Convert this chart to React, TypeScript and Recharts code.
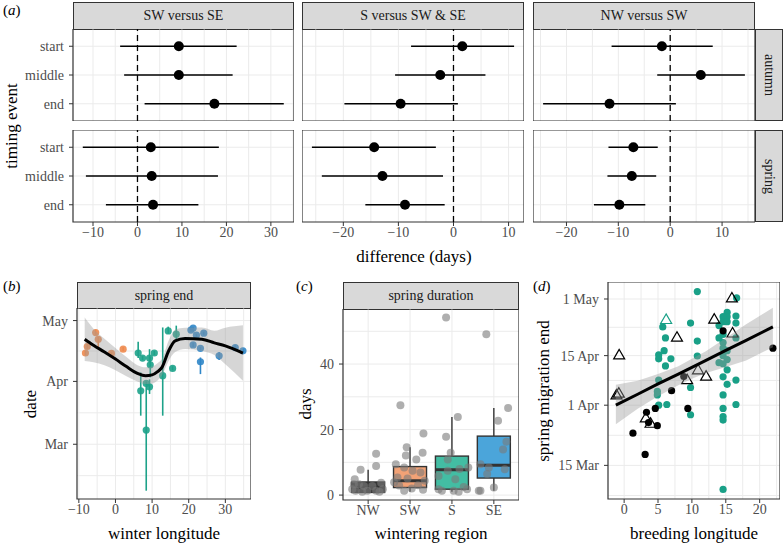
import React from "react";
import {
  Area,
  Bar,
  CartesianGrid,
  ComposedChart,
  ErrorBar,
  Line,
  ReferenceArea,
  ReferenceLine,
  Scatter,
  XAxis,
  YAxis,
} from "recharts";

const FONT = "Liberation Serif, Times New Roman, serif";
const BORDER = "#333333";
const GRID = "#EBEBEB";
const TICK = { fontSize: 14, fill: "#4D4D4D", fontFamily: FONT };
const ORANGE = "#EE8A4E";
const TEAL = "#1DA289";
const BLUE = "#2F86C8";

// ---------- (a) differences between wintering regions (days)
const timingEvents = ["start", "middle", "end"];
const comparisons = ["SW versus SE", "S versus SW & SE", "NW versus SW"];
const seasons = ["autumn", "spring"];

const swSeAutumnMean = [9.3, 9.3, 17.3];
const swSeAutumnLower = [-3.9, -3.0, 1.6];
const swSeAutumnUpper = [22.3, 21.4, 32.9];
const swSeSpringMean = [3.0, 3.2, 3.5];
const swSeSpringLower = [-12.3, -11.6, -7.1];
const swSeSpringUpper = [18.3, 18.1, 13.7];

const sSwSeAutumnMean = [1.6, -2.4, -9.6];
const sSwSeAutumnLower = [-7.7, -10.6, -19.8];
const sSwSeAutumnUpper = [11.0, 5.8, 0.8];
const sSwSeSpringMean = [-14.4, -12.9, -8.8];
const sSwSeSpringLower = [-25.7, -23.9, -16.0];
const sSwSeSpringUpper = [-3.2, -1.9, -1.6];

const nwSwAutumnMean = [-1.6, 5.9, -11.7];
const nwSwAutumnLower = [-11.3, -2.5, -24.5];
const nwSwAutumnUpper = [8.2, 14.4, 1.1];
const nwSwSpringMean = [-7.1, -7.4, -9.8];
const nwSwSpringLower = [-11.9, -12.1, -14.7];
const nwSwSpringUpper = [-2.4, -2.7, -4.8];

const facetMean = [
  [swSeAutumnMean, swSeSpringMean],
  [sSwSeAutumnMean, sSwSeSpringMean],
  [nwSwAutumnMean, nwSwSpringMean],
];
const facetLower = [
  [swSeAutumnLower, swSeSpringLower],
  [sSwSeAutumnLower, sSwSeSpringLower],
  [nwSwAutumnLower, nwSwSpringLower],
];
const facetUpper = [
  [swSeAutumnUpper, swSeSpringUpper],
  [sSwSeAutumnUpper, sSwSeSpringUpper],
  [nwSwAutumnUpper, nwSwSpringUpper],
];

const diffDomains = [[-14.5, 35.2], [-27.5, 12.8], [-26.45, 16.35]];
const diffTicks = [[-10, 0, 10, 20, 30], [-20, -10, 0, 10], [-20, -10, 0, 10]];
const diffGrid = [
  [-10, -5, 0, 5, 10, 15, 20, 25, 30, 35],
  [-25, -20, -15, -10, -5, 0, 5, 10],
  [-25, -20, -15, -10, -5, 0, 5, 10, 15],
];

// ---------- (b) spring end vs winter longitude (day of year)
const swLon = [-8.2, -7.7, -5.4, -4.7, -1.1, 2.1];
const swEnd = [105.0, 108.2, 115.1, 111.8, 104.8, 106.9];
const swLow = [104, 107, 114, 107.5, 104, 106];
const swHigh = [106, 109.5, 116.5, 113, 105.5, 108];

const sLon = [6.2, 7.4, 6.9, 8.4, 8.4, 9.3, 9.5, 9.3, 10.6, 12.9, 14.4, 15.6, 16.6];
const sEnd = [105, 102.5, 86.4, 67, 90, 102.5, 99.2, 88.3, 105, 93.8, 115.9, 97.4, 114.3];
const sLow = [102.5, 101.5, 74.1, 37.1, 89, 100.4, 93, 84.8, 104, 74.1, 114.5, 96.5, 111];
const sHigh = [110.6, 103.5, 95.4, 88.8, 91, 106.9, 103, 92, 106, 117.6, 118, 98.5, 118.5];

const seLon = [20.6, 21.2, 21.2, 22.1, 23.2, 23.2, 24.1, 28.3, 32.7, 34.8];
const seEnd = [116.3, 117.3, 109, 113.8, 107.3, 100.7, 114.8, 103.6, 107.7, 106.1];
const seLow = [115.5, 116.5, 108, 113, 106.5, 94.6, 114, 101.5, 106.5, 105.5];
const seHigh = [117, 118, 110, 114.5, 108, 102.8, 115.5, 105.5, 109, 106.8];

const smoothLon = [-8.4, -6, -3, 0, 3, 6, 8.2, 10, 11.5, 12.7, 14.5, 16.3, 19, 23.6, 27, 30, 34.8];
const smoothFit = [111.8, 108.8, 105.5, 102, 98.3, 95, 93.8, 94.2, 95.8, 97.9, 106, 111, 112.2, 111.8, 110, 108.5, 105];
const smoothLower = [101, 100.5, 99, 96.5, 93.5, 91, 89.7, 90, 91.5, 94, 101, 105.5, 107, 106, 104, 99.5, 91.3];
const smoothUpper = [122.5, 117, 112, 107.5, 103, 99, 98, 98.4, 100, 102, 111, 116.5, 117.4, 117.6, 116, 117.5, 118.7];

const monthTicks = [60, 91, 121];
const monthLabels = ["Mar", "Apr", "May"];

// ---------- (c) spring duration by wintering region (days)
const regions = ["NW", "SW", "S", "SE"];
const boxQ1 = [0.8, 2.3, 1.8, 5.2];
const boxMedian = [2.3, 4.4, 7.7, 9.1];
const boxQ3 = [4.0, 8.7, 11.9, 18.0];
const whiskerLow = [0.8, 1.0, 1.0, 1.3];
const whiskerHigh = [7.7, 14.6, 23.8, 26.6];
const boxColors = ["#3A3A3A", "#F2A276", "#43BDA3", "#4BA5DA"];

const durationPos = [
  0.82, 1.19, 1.19, 0.68, 0.66, 0.78, 0.7, 0.9, 1.1, 1.31, 1.35, 1.19, 0.98, 0.86, 1.27, 0.62,
  1.77, 2.32, 1.92, 2.3, 2.15, 1.9, 1.66, 1.86, 2.06, 2.25, 1.7, 1.94, 2.35, 1.74, 2.19, 1.86, 2.31, 2.04, 1.62,
  2.86, 2.86, 3.14, 2.97, 2.76, 3.04, 3.16, 3.28, 3.39, 2.9, 3.18, 2.9, 2.68, 3.08, 2.68, 3.36,
  3.82, 4.34, 4.1, 4.3, 4.22, 4.26, 3.68, 3.88, 3.84, 3.68, 4.0, 3.64,
];
const durationDays = [
  7.7, 12.6, 8.9, 4.8, 3.3, 3.3, 1.3, 2.8, 2.8, 3.8, 1.8, 1.3, 1.3, 1.0, 1.0, 1.8,
  27.4, 18.8, 14.6, 12.9, 10.9, 12.1, 9.4, 8.4, 7.4, 6.9, 5.4, 5.1, 4.4, 2.9, 3.0, 1.3, 1.6, 2.0, 3.9,
  54.2, 17.8, 23.8, 12.9, 1.3, 1.3, 1.0, 2.5, 8.4, 10.9, 8.0, 7.4, 5.8, 4.8, 1.8, 1.8,
  49.1, 26.6, 22.7, 16.3, 13.9, 7.9, 9.4, 8.4, 6.4, 1.3, 2.3, 1.3,
];

// ---------- (d) spring migration end vs breeding longitude (day of year)
const tealLon = [
  10.8, 16.6, 15.2, 15.2, 14.6, 14.6, 15.2, 16.5, 16.5, 5.7, 9.8, 6.1, 10.8, 16.5, 14.6, 14.6, 14.6, 15.2,
  14.6, 15.2, 14.6, 15.2, 14.6, 15.2, 14.6, 14.6, 14.6, 14.6, 14.6, 16.5, 16.5, 5.9, 5.1, 5.1, 6.9, 6.1,
  5.1, 4.9, 4.9, 6.3, 5.1, 9.8, 9.8, 10.8, 14.0, 14.0, 14.0,
];
const tealEnd = [
  123.1, 121.3, 117.2, 116.0, 116.0, 114.6, 114.6, 116.2, 114.2, 113.1, 114.2, 110.0, 109.1, 110.0, 111.0, 108.7, 107.1, 106.4,
  105.0, 103.9, 102.7, 101.0, 99.0, 96.9, 93.9, 90.1, 87.8, 86.8, 67.2, 98.1, 91.2, 106.4, 105.2, 104.1, 104.1, 102.1,
  98.1, 94.9, 93.9, 91.2, 91.0, 96.0, 88.3, 104.9, 113.5, 110.0, 103.0,
];
const blackLon = [14.6, 21.95, 7.0, 8.8, 9.4, 4.6, 3.3, 3.6, 4.9, 1.3, 3.1];
const blackEnd = [112.0, 107.1, 95.1, 99.1, 90.1, 90.1, 89.0, 86.1, 85.2, 83.1, 77.1];
const triLon = [15.9, 13.3, 16.0, 7.8, -0.73, 10.9, 12.1, 9.3, -1.12, -0.78, 3.2, 3.9];
const triEnd = [121.3, 115.3, 111.4, 110.2, 105.2, 101.0, 99.2, 98.2, 93.9, 94.4, 87.4, 85.9];
const tealTriLon = [6.2];
const tealTriEnd = [115.2];

const lmLon = [-1.22, 2, 5, 8, 10, 12, 15, 18, 21.95];
const lmFit = [91.0, 94.1, 97.0, 99.8, 101.7, 103.6, 106.5, 109.3, 113.1];
const lmLower = [85.6, 90.0, 93.5, 96.6, 98.5, 100.0, 101.8, 103.6, 107.4];
const lmUpper = [96.8, 97.9, 99.8, 102.0, 104.1, 106.2, 110.0, 113.9, 118.5];

const dateTicks = [74, 91, 105, 121];
const dateLabels = ["15 Mar", "1 Apr", "15 Apr", "1 May"];

// ---------- helpers
const fmtNum = (v: number) => (v < 0 ? `\u2212${Math.abs(v)}` : `${v}`);
const NO_MARGIN = { top: 0, right: 0, bottom: 0, left: 0 };
const BOX_WIDTH = 33;

const toPoints = (xs: number[], ys: number[], lo?: number[], hi?: number[]) =>
  xs.map((x, i) => ({
    x,
    y: ys[i],
    err: lo && hi ? [ys[i] - lo[i], hi[i] - ys[i]] : [0, 0],
  }));

const dot = (r: number, fill: string, opacity = 1) => (p: any) =>
  <circle cx={p.cx} cy={p.cy} r={r} fill={fill} fillOpacity={opacity} />;

const triangle = (stroke: string) => (p: any) =>
  (
    <polygon
      points={`${p.cx},${p.cy - 5.5} ${p.cx - 5.5},${p.cy + 4} ${p.cx + 5.5},${p.cy + 4}`}
      fill="none"
      stroke={stroke}
      strokeWidth={1.2}
    />
  );

const axisCommon = {
  tick: TICK,
  tickLine: { stroke: BORDER },
  tickSize: 4,
  axisLine: false,
  interval: 0 as const,
};

function Strip({ left, top, width, height, label, vertical }: any) {
  return (
    <div
      style={{
        position: "absolute",
        left,
        top,
        width,
        height,
        boxSizing: "border-box",
        background: "#D9D9D9",
        border: `1.2px solid ${BORDER}`,
        display: "flex",
        alignItems: "center",
        justifyContent: "center",
        fontSize: 14,
        color: "#1A1A1A",
        whiteSpace: "nowrap",
        writingMode: vertical ? "vertical-rl" : undefined,
      }}
    >
      {label}
    </div>
  );
}

function Title({ x, y, rotate, children, size = 17 }: any) {
  return (
    <div
      style={{
        position: "absolute",
        left: x,
        top: y,
        transform: `translate(-50%, -50%)${rotate ? " rotate(-90deg)" : ""}`,
        whiteSpace: "nowrap",
        fontSize: size,
        color: "#000",
        lineHeight: 1,
      }}
    >
      {children}
    </div>
  );
}

function PanelTag({ x, y, letter }: any) {
  return (
    <div style={{ position: "absolute", left: x, top: y, fontSize: 15, lineHeight: 1 }}>
      (<i>{letter}</i>)
    </div>
  );
}

// ---------- (a)
const A_LEFT = [73, 302, 533];
const A_WIDTH = [221, 222, 222];
const A_TOP = [29, 130];
const A_HEIGHT = 92;

function ForestFacet({ col, row }: { col: number; row: number }) {
  const mean = facetMean[col][row];
  const lo = facetLower[col][row];
  const hi = facetUpper[col][row];
  const data = mean.map((m, i) => ({
    x: m,
    y: timingEvents.length - i,
    err: [m - lo[i], hi[i] - m],
  }));
  const showY = col === 0;
  const showX = row === 1;
  const yw = showY ? 60 : 0;
  const xh = showX ? 24 : 0;
  const [d0, d1] = diffDomains[col];
  return (
    <div style={{ position: "absolute", left: A_LEFT[col] - yw, top: A_TOP[row] }}>
      <ComposedChart width={A_WIDTH[col] + yw} height={A_HEIGHT + xh} margin={NO_MARGIN}>
        <CartesianGrid stroke={GRID} verticalValues={diffGrid[col]} horizontalValues={[1, 2, 3]} />
        <XAxis
          type="number"
          dataKey="x"
          domain={[d0, d1]}
          ticks={diffTicks[col]}
          allowDataOverflow
          hide={!showX}
          height={xh}
          tickMargin={1}
          tickFormatter={fmtNum}
          {...axisCommon}
        />
        <YAxis
          type="number"
          domain={[0.4, 3.6]}
          ticks={[1, 2, 3]}
          allowDataOverflow
          hide={!showY}
          width={yw}
          tickMargin={5}
          tickFormatter={(v: number) => timingEvents[timingEvents.length - v]}
          {...axisCommon}
        />
        <ReferenceLine x={0} stroke="#000" strokeDasharray="6 4" strokeWidth={1.3} />
        <Scatter data={data} dataKey="y" isAnimationActive={false} shape={dot(5, "#000")}>
          <ErrorBar dataKey="err" direction="x" width={0} stroke="#000" strokeWidth={1.6} />
        </Scatter>
        <ReferenceArea
          x1={d0}
          x2={d1}
          y1={0.4}
          y2={3.6}
          fill="none"
          stroke={BORDER}
          strokeWidth={1.2}
          ifOverflow="visible"
        />
      </ComposedChart>
    </div>
  );
}

// ---------- (b)
function SpringEndPanel() {
  const smooth = smoothLon.map((x, i) => ({
    x,
    fit: smoothFit[i],
    band: [smoothLower[i], smoothUpper[i]],
  }));
  const groups = [
    { pts: toPoints(swLon, swEnd, swLow, swHigh), color: ORANGE },
    { pts: toPoints(sLon, sEnd, sLow, sHigh), color: TEAL },
    { pts: toPoints(seLon, seEnd, seLow, seHigh), color: BLUE },
  ];
  const yw = 50;
  return (
    <div style={{ position: "absolute", left: 77 - yw, top: 308 }}>
      <ComposedChart width={174 + yw} height={191 + 24} data={smooth} margin={NO_MARGIN}>
        <CartesianGrid
          stroke={GRID}
          verticalValues={[-10, -5, 0, 5, 10, 15, 20, 25, 30, 35]}
          horizontalValues={[44.5, 60, 75.5, 91, 106, 121]}
        />
        <XAxis
          type="number"
          dataKey="x"
          domain={[-10.5, 37]}
          ticks={[-10, 0, 10, 20, 30]}
          allowDataOverflow
          height={24}
          tickMargin={1}
          tickFormatter={fmtNum}
          {...axisCommon}
        />
        <YAxis
          type="number"
          domain={[33, 127.2]}
          ticks={monthTicks}
          allowDataOverflow
          width={yw}
          tickMargin={5}
          tickFormatter={(v: number) => monthLabels[monthTicks.indexOf(v)]}
          {...axisCommon}
        />
        {groups.map((g, i) => (
          <Scatter
            key={i}
            data={g.pts}
            dataKey="y"
            isAnimationActive={false}
            shape={dot(3.6, g.color, 0.9)}
            zIndex={550}
          >
            <ErrorBar dataKey="err" direction="y" width={0} stroke={g.color} strokeWidth={1.6} />
          </Scatter>
        ))}
        <Area
          dataKey="band"
          type="monotone"
          fill="#999999"
          fillOpacity={0.4}
          stroke="none"
          isAnimationActive={false}
          zIndex={650}
        />
        <Line
          dataKey="fit"
          type="monotone"
          stroke="#000"
          strokeWidth={3}
          dot={false}
          isAnimationActive={false}
          zIndex={700}
        />
        <ReferenceArea
          x1={-10.5}
          x2={37}
          y1={33}
          y2={127.2}
          fill="none"
          stroke={BORDER}
          strokeWidth={1.2}
          ifOverflow="visible"
          zIndex={800}
        />
      </ComposedChart>
    </div>
  );
}

// ---------- (c)
// box drawn from the bar the library places for [q1, q3]; median and
// whiskers use the same pixels-per-day as that bar
const BoxShape = (props: any) => {
  const { x, y, width, height, index } = props;
  const q1 = boxQ1[index];
  const q3 = boxQ3[index];
  const ppu = height / (q3 - q1);
  const yOf = (v: number) => y + (q3 - v) * ppu;
  const cx = x + (width || 0) / 2;
  const left = cx - BOX_WIDTH / 2;
  const med = yOf(boxMedian[index]);
  return (
    <g>
      <line x1={cx} x2={cx} y1={yOf(whiskerHigh[index])} y2={y} stroke={BORDER} strokeWidth={1.4} />
      <line x1={cx} x2={cx} y1={y + height} y2={yOf(whiskerLow[index])} stroke={BORDER} strokeWidth={1.4} />
      <rect x={left} y={y} width={BOX_WIDTH} height={height} fill={boxColors[index]} stroke={BORDER} strokeWidth={1.4} />
      <line x1={left} x2={left + BOX_WIDTH} y1={med} y2={med} stroke={BORDER} strokeWidth={3} />
    </g>
  );
};

function DurationPanel() {
  const boxes = regions.map((r, i) => ({ x: i + 1, box: [boxQ1[i], boxQ3[i]] }));
  const pts = toPoints(durationPos, durationDays);
  const yw = 40;
  return (
    <div style={{ position: "absolute", left: 343 - yw, top: 309 }}>
      <ComposedChart width={176 + yw} height={191 + 24} data={boxes} margin={NO_MARGIN}>
        <CartesianGrid stroke={GRID} verticalValues={[1, 2, 3, 4]} horizontalValues={[0, 10, 20, 30, 40, 50]} />
        <XAxis
          type="number"
          dataKey="x"
          domain={[0.4, 4.6]}
          ticks={[1, 2, 3, 4]}
          allowDataOverflow
          height={24}
          tickMargin={1}
          tickFormatter={(v: number) => regions[v - 1]}
          {...axisCommon}
        />
        <YAxis
          type="number"
          domain={[-1.5, 56.8]}
          ticks={[0, 20, 40]}
          allowDataOverflow
          width={yw}
          tickMargin={5}
          {...axisCommon}
        />
        <Bar dataKey="box" barSize={BOX_WIDTH} shape={BoxShape} isAnimationActive={false} />
        <Scatter data={pts} dataKey="y" isAnimationActive={false} shape={dot(4, "#7A7A7A", 0.6)} />
        <ReferenceArea
          x1={0.4}
          x2={4.6}
          y1={-1.5}
          y2={56.8}
          fill="none"
          stroke={BORDER}
          strokeWidth={1.2}
          ifOverflow="visible"
          zIndex={800}
        />
      </ComposedChart>
    </div>
  );
}

// ---------- (d)
function BreedingPanel() {
  const lm = lmLon.map((x, i) => ({ x, fit: lmFit[i], band: [lmLower[i], lmUpper[i]] }));
  const yw = 70;
  return (
    <div style={{ position: "absolute", left: 608 - yw, top: 282 }}>
      <ComposedChart width={172 + yw} height={217 + 24} data={lm} margin={NO_MARGIN}>
        <CartesianGrid
          stroke={GRID}
          verticalValues={[0, 2.5, 5, 7.5, 10, 12.5, 15, 17.5, 20, 22.5]}
          horizontalValues={[65.5, 74, 82.5, 91, 98, 105, 113, 121]}
        />
        <XAxis
          type="number"
          dataKey="x"
          domain={[-2.38, 23.0]}
          ticks={[0, 5, 10, 15, 20]}
          allowDataOverflow
          height={24}
          tickMargin={1}
          tickFormatter={fmtNum}
          {...axisCommon}
        />
        <YAxis
          type="number"
          domain={[64.5, 125.8]}
          ticks={dateTicks}
          allowDataOverflow
          width={yw}
          tickMargin={5}
          tickFormatter={(v: number) => dateLabels[dateTicks.indexOf(v)]}
          {...axisCommon}
        />
        <Scatter data={toPoints(tealLon, tealEnd)} dataKey="y" isAnimationActive={false} shape={dot(3.6, "#19A087")} zIndex={550} />
        <Scatter data={toPoints(blackLon, blackEnd)} dataKey="y" isAnimationActive={false} shape={dot(3.6, "#000")} zIndex={550} />
        <Scatter data={toPoints(triLon, triEnd)} dataKey="y" isAnimationActive={false} shape={triangle("#000")} zIndex={550} />
        <Scatter data={toPoints(tealTriLon, tealTriEnd)} dataKey="y" isAnimationActive={false} shape={triangle("#19A087")} zIndex={550} />
        <Area dataKey="band" type="linear" fill="#999999" fillOpacity={0.4} stroke="none" isAnimationActive={false} zIndex={650} />
        <Line dataKey="fit" type="linear" stroke="#000" strokeWidth={3} dot={false} isAnimationActive={false} zIndex={700} />
        <ReferenceArea
          x1={-2.38}
          x2={23.0}
          y1={64.5}
          y2={125.8}
          fill="none"
          stroke={BORDER}
          strokeWidth={1.2}
          ifOverflow="visible"
          zIndex={800}
        />
      </ComposedChart>
    </div>
  );
}

export default function App() {
  return (
    <div
      style={{
        position: "absolute",
        left: 0,
        top: 0,
        width: 783,
        height: 543,
        background: "#fff",
        overflow: "hidden",
        fontFamily: FONT,
      }}
    >
      <PanelTag x={3} y={3} letter="a" />
      {comparisons.map((c, col) => (
        <Strip key={c} left={A_LEFT[col]} top={2} width={A_WIDTH[col]} height={28} label={c} />
      ))}
      {seasons.map((s, row) => (
        <Strip key={s} left={755} top={A_TOP[row]} width={28} height={A_HEIGHT} label={s} vertical />
      ))}
      {[0, 1, 2].map((col) =>
        [0, 1].map((row) => <ForestFacet key={`${col}-${row}`} col={col} row={row} />)
      )}
      <Title x={11} y={126} rotate>
        timing event
      </Title>
      <Title x={414} y={256}>difference (days)</Title>

      <PanelTag x={3} y={279} letter="b" />
      <Strip left={77} top={282} width={174} height={27} label="spring end" />
      <SpringEndPanel />
      <Title x={30} y={404} rotate>
        date
      </Title>
      <Title x={164} y={533}>winter longitude</Title>

      <PanelTag x={296} y={279} letter="c" />
      <Strip left={343} top={282} width={176} height={28} label="spring duration" />
      <DurationPanel />
      <Title x={305} y={404} rotate>
        days
      </Title>
      <Title x={431} y={533}>wintering region</Title>

      <PanelTag x={533} y={279} letter="d" />
      <BreedingPanel />
      <Title x={543} y={391} rotate>
        spring migration end
      </Title>
      <Title x={694} y={533}>breeding longitude</Title>
    </div>
  );
}
